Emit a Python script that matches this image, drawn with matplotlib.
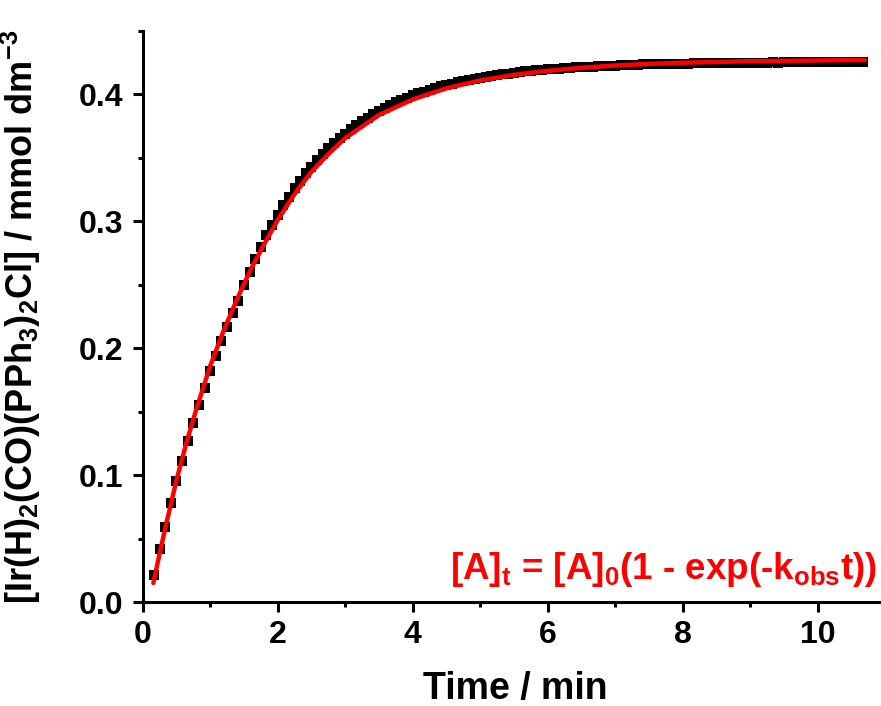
import numpy as np
import matplotlib.pyplot as plt
from matplotlib.ticker import MultipleLocator

plt.rcParams['font.family'] = ['Liberation Sans', 'DejaVu Sans']
plt.rcParams['font.weight'] = 'bold'
plt.rcParams['mathtext.fontset'] = 'custom'
plt.rcParams['mathtext.rm'] = 'Liberation Sans:bold'
plt.rcParams['mathtext.it'] = 'Liberation Sans:bold'
plt.rcParams['mathtext.bf'] = 'Liberation Sans:bold'
plt.rcParams['mathtext.default'] = 'bf'

# измерения: отсчёт каждые 5 с, начиная с 10 с
time_s = np.arange(10, 645, 5)
conc = [
    0.0210, 0.0415, 0.0594, 0.0780, 0.0950, 0.1110, 0.1268, 0.1412,
    0.1552, 0.1688, 0.1818, 0.1942, 0.2058, 0.2168, 0.2278, 0.2375,
    0.2495, 0.2603, 0.2705, 0.2800, 0.2889, 0.2973, 0.3051, 0.3125,
    0.3195, 0.3260, 0.3321, 0.3378, 0.3432, 0.3482, 0.3530, 0.3574,
    0.3616, 0.3655, 0.3692, 0.3727, 0.3759, 0.3789, 0.3818, 0.3845,
    0.3870, 0.3894, 0.3916, 0.3937, 0.3956, 0.3975, 0.3992, 0.4008,
    0.4023, 0.4037, 0.4051, 0.4063, 0.4075, 0.4086, 0.4096, 0.4106,
    0.4115, 0.4124, 0.4132, 0.4139, 0.4147, 0.4153, 0.4159, 0.4165,
    0.4171, 0.4176, 0.4181, 0.4185, 0.4190, 0.4194, 0.4197, 0.4201,
    0.4204, 0.4207, 0.4210, 0.4213, 0.4216, 0.4218, 0.4220, 0.4222,
    0.4224, 0.4226, 0.4228, 0.4230, 0.4231, 0.4233, 0.4234, 0.4236,
    0.4237, 0.4238, 0.4239, 0.4241, 0.4240, 0.4242, 0.4243, 0.4242,
    0.4244, 0.4245, 0.4244, 0.4246, 0.4247, 0.4246, 0.4248, 0.4247,
    0.4249, 0.4250, 0.4249, 0.4250, 0.4251, 0.4250, 0.4252, 0.4251,
    0.4252, 0.4253, 0.4252, 0.4254, 0.4253, 0.4252, 0.4254, 0.4255,
    0.4254, 0.4253, 0.4255, 0.4254, 0.4256, 0.4255, 0.4254,
]
time_min = time_s / 60

# аппроксимация [A]t = [A]0(1 - exp(-kobs t))
fit_time = [0.157, 0.25, 0.35, 0.5, 0.65, 0.8, 1.0, 1.2, 1.4, 1.6, 1.8,
            2.0, 2.25, 2.5, 2.75, 3.0, 3.5, 4.0, 4.5, 5.0, 5.5, 6.0, 6.5,
            7.0, 7.5, 8.0, 9.0, 10.0, 10.7]
fit_conc = [0.0150, 0.0380, 0.0620, 0.0960, 0.1260, 0.1530, 0.1860, 0.2140,
            0.2390, 0.2620, 0.2820, 0.3010, 0.3215, 0.3390, 0.3530, 0.3655,
            0.3838, 0.3960, 0.4048, 0.4110, 0.4154, 0.4186, 0.4210, 0.4228,
            0.4241, 0.4250, 0.4262, 0.4268, 0.4271]

fig = plt.figure(figsize=(8.81, 7.06), dpi=100)
ax = fig.add_axes([0.162, 0.1473, 0.838, 0.8088])

ax.plot(time_min, conc, 's', color='black', markersize=7.5, markeredgewidth=0, zorder=2)
ax.plot(fit_time, fit_conc, '-', color='#ff0000', lw=3.2, solid_capstyle='round', zorder=3)

ax.set_xlim(0, 10.94)
ax.set_ylim(0, 0.45)
ax.xaxis.set_major_locator(MultipleLocator(2))
ax.xaxis.set_minor_locator(MultipleLocator(1))
ax.yaxis.set_major_locator(MultipleLocator(0.1))
ax.yaxis.set_minor_locator(MultipleLocator(0.05))
ax.yaxis.set_major_formatter(plt.FormatStrFormatter('%.1f'))

for side in ['top', 'right']:
    ax.spines[side].set_visible(False)
for side in ['left', 'bottom']:
    ax.spines[side].set_linewidth(2.2)

ax.tick_params(which='major', direction='out', length=7, width=2.2, labelsize=23)
ax.tick_params(which='minor', direction='out', length=3.6, width=2.2)
ax.tick_params(axis='x', which='major', pad=6)
ax.tick_params(axis='y', which='major', pad=7)

ax.set_xlabel('Time / min', fontsize=27, fontweight='bold')
ax.xaxis.set_label_coords(0.504, -0.121)
ax.set_ylabel(r'[Ir(H)$_2$(CO)(PPh$_3$)$_2$Cl] / mmol dm$^{-3}$', fontsize=26, fontweight='bold')
ax.yaxis.set_label_coords(-0.135, 0.5)

ax.text(0.9946, 0.0403, r'[A]$_t$ = [A]$_0$(1 - exp(-k$_{obs}$t))', transform=ax.transAxes,
        ha='right', va='baseline', color='#ff0000', fontsize=26.5, fontweight='bold')

fig.savefig('out.png', dpi=100)
